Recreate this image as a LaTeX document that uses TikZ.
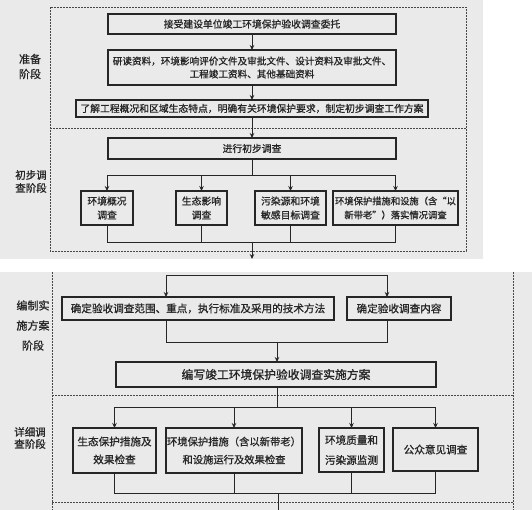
\documentclass[tikz,border=0pt]{standalone}
\usepackage{fontspec}
\setmainfont{Noto Sans CJK SC}[FakeBold=0.9]
\usetikzlibrary{arrows.meta}
\definecolor{paper}{HTML}{EAEAEA}
\definecolor{ink}{HTML}{262626}
\begin{document}
\begin{tikzpicture}[x=1pt,y=-1pt,
  box/.style={draw=ink, line width=1.1pt, inner sep=0pt, outer sep=0pt, align=center, text=ink},
  ftop/.style={font=\fontsize{9.8}{13}\selectfont},
  fbot/.style={font=\fontsize{10.6}{18}\selectfont},
  conn/.style={draw=ink, line width=0.9pt},
  arr/.style={conn, -{Stealth[length=5pt,width=4.5pt]}},
  frame/.style={draw=ink!85, line width=0.8pt, dash pattern=on 2pt off 1pt},
  lbl/.style={text=ink, align=center, inner sep=0pt}
]
\useasboundingbox (0,0) rectangle (532,510);
\fill[white] (0,0) rectangle (532,510);
\fill[paper] (0,0) rectangle (483,259);
\fill[paper] (0,272) rectangle (532,510);

% frames
\draw[frame] (50,7) rectangle (466,251);
\draw[frame] (50,128) -- (466,128);
\draw[frame] (52,272) -- (52,510);
\draw[frame] (513,272) -- (513,510);
\draw[frame] (52,395) -- (513,395);
\draw[frame] (52,502) -- (513,502);

% stage labels
\node[lbl, font=\fontsize{11}{15}\selectfont] (L1) at (30,66.5) {准备\\阶段};
\node[lbl, font=\fontsize{10.5}{13}\selectfont] (L2) at (31,181.5) {初步调\\查阶段};
\node[lbl, font=\fontsize{11}{20}\selectfont] (L3) at (33,325.5) {编制实\\施方案\\阶段};
\node[lbl, font=\fontsize{10.5}{12}\selectfont] (L4) at (30,438) {详细调\\查阶段};

% top piece boxes
\node[box, ftop, minimum width=288pt, minimum height=20pt] (b1) at (252,24) {接受建设单位竣工环境保护验收调查委托};
\node[box, font=\fontsize{9.6}{13}\selectfont, minimum width=288pt, minimum height=35pt] (b2) at (252,67.5) {研读资料，环境影响评价文件及审批文件、设计资料及审批文件、\\工程竣工资料、其他基础资料};
\node[box, ftop, minimum width=352pt, minimum height=17pt] (b3) at (252,108.5) {了解工程概况和区域生态特点，明确有关环境保护要求，制定初步调查工作方案};
\node[box, ftop, minimum width=288pt, minimum height=21pt] (b4) at (252,148.5) {进行初步调查};
\node[box, font=\fontsize{9.8}{14}\selectfont, minimum width=52pt, minimum height=34pt] (ra) at (107,208) {环境概况\\调查};
\node[box, font=\fontsize{9.8}{14}\selectfont, minimum width=51pt, minimum height=34pt] (rb) at (201.5,208) {生态影响\\调查};
\node[box, font=\fontsize{9.8}{14}\selectfont, minimum width=71pt, minimum height=34pt] (rc) at (290.5,208) {污染源和环境\\敏感目标调查};
\node[box, font=\fontsize{9.3}{14}\selectfont, minimum width=125pt, minimum height=34pt] (rd) at (395.5,208) {环境保护措施和设施（含“以\\新带老”）落实情况调查};

% top connectors
\draw[arr] (b1.south) -- (b2.north);
\draw[arr] (b2.south) -- (b3.north);
\draw[arr] (b3.south) -- (b4.north);
\coordinate (s1) at (252,175);
\draw[conn] (b4.south) -- (s1);
\draw[arr] (s1) -| (ra.north);
\draw[arr] (s1) -| (rb.north);
\draw[arr] (s1) -| (rc.north);
\draw[arr] (s1) -| (rd.north);
\coordinate (m1) at (252,242);
\coordinate (m2) at (252,259);
\draw[conn] (ra.south) |- (m1);
\draw[conn] (rb.south) |- (m1);
\draw[conn] (rc.south) |- (m1);
\draw[conn] (rd.south) |- (m1);
\draw[arr] (m1) -- (m2);

% bottom piece boxes
\node[box, fbot, minimum width=272pt, minimum height=23pt] (be) at (198,308.5) {确定验收调查范围、重点，执行标准及采用的技术方法};
\node[box, fbot, minimum width=104pt, minimum height=23pt] (bf) at (399,308.5) {确定验收调查内容};
\node[box, font=\fontsize{11.8}{14}\selectfont, minimum width=320pt, minimum height=25pt] (bgx) at (276,374.5) {编写竣工环境保护验收调查实施方案};
\node[box, fbot, minimum width=83pt, minimum height=45pt] (bh) at (114.5,450.5) {生态保护措施及\\效果检查};
\node[box, font=\fontsize{10.3}{18}\selectfont, minimum width=136pt, minimum height=45pt] (bi) at (234,450.5) {环境保护措施（含以新带老）\\和设施运行及效果检查};
\node[box, font=\fontsize{10.6}{20}\selectfont, minimum width=65pt, minimum height=44pt] (bj) at (351.5,450) {环境质量和\\污染源监测};
\node[box, fbot, minimum width=85pt, minimum height=43pt] (bk) at (435.5,449.5) {公众意见调查};

% bottom connectors
\coordinate (t0) at (166,275);
\coordinate (t2) at (387,275);
\draw[conn] (t0) -- (t2);
\draw[arr] (t0) -- (t0 |- be.north);
\draw[arr] (t2) -- (t2 |- bf.north);
\coordinate (u0) at (166,342);
\coordinate (u1) at (277,342);
\coordinate (u2) at (387,342);
\draw[conn] (u0 |- be.south) -- (u0) -- (u2) -- (u2 |- bf.south);
\draw[arr] (u1) -- (u1 |- bgx.north);
\coordinate (v1) at (277,407);
\draw[conn] (v1 |- bgx.south) -- (v1);
\draw[arr] (v1) -| (bh.north);
\draw[arr] (v1) -| (bi.north);
\draw[arr] (v1) -| (bj.north);
\draw[arr] (v1) -| (bk.north);
\coordinate (w1) at (278,493);
\coordinate (w2) at (278,510);
\draw[conn] (bh.south) |- (w1);
\draw[conn] (bi.south) |- (w1);
\draw[conn] (bj.south) |- (w1);
\draw[conn] (bk.south) |- (w1);
\draw[conn] (w1) -- (w2);
\end{tikzpicture}
\end{document}
